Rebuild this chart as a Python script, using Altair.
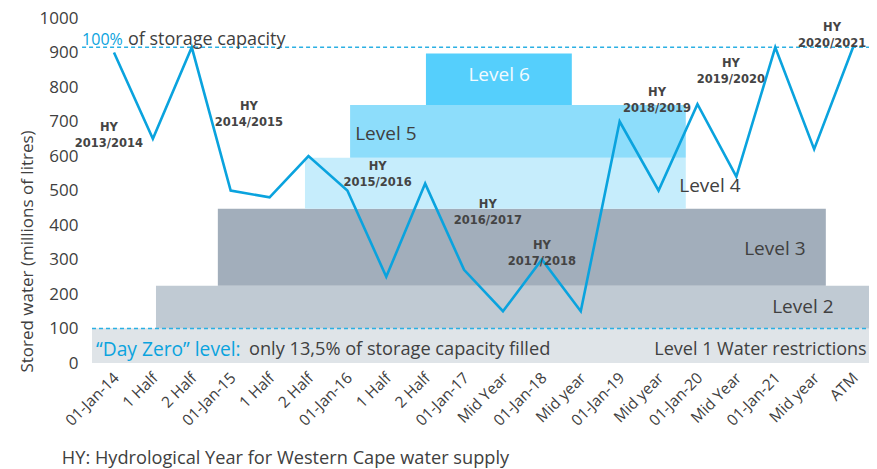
import altair as alt
import pandas as pd

# ---- data ----
categories = ["01-Jan-14", "1 Half", "2 Half", "01-Jan-15", "1 Half", "2 Half",
              "01-Jan-16", "1 Half", "2 Half", "01-Jan-17", "Mid Year", "01-Jan-18",
              "Mid year", "01-Jan-19", "Mid year", "01-Jan-20", "Mid Year", "01-Jan-21",
              "Mid year", "ATM"]
stored = [900, 650, 915, 500, 480, 600, 500, 250, 520, 270, 150, 300, 150,
          700, 500, 750, 540, 915, 620, 915]
y_ticks = [0, 100, 200, 300, 400, 500, 600, 700, 800, 900, 1000]

level_names = ["Level 1", "Level 2", "Level 3", "Level 4", "Level 5", "Level 6"]
level_x0 = [-0.565, 1.08, 2.67, 4.91, 6.07, 8.02]
level_x1 = [19.5, 19.5, 18.30, 14.70, 14.70, 11.77]
level_y0 = [0, 100, 224, 447, 595, 748]
level_y1 = [101, 224, 447, 595, 748, 897]
level_colors = ["#DFE4E8", "#C0CAD3", "#A2AEBB", "#C6EDFC", "#8DDDFB", "#55CFFC"]

level_label_text = ["Level 6", "Level 5", "Level 4", "Level 3", "Level 2"]
level_label_x = [9.9, 6.99, 15.32, 16.99, 17.71]
level_label_y = [834, 663, 514, 331, 163]
level_label_color = ["#F2FBFF", "#404040", "#404040", "#404040", "#404040"]

hy_text = ["HY\n2013/2014", "HY\n2014/2015", "HY\n2015/2016", "HY\n2016/2017",
           "HY\n2017/2018", "HY\n2018/2019", "HY\n2019/2020", "HY\n2020/2021"]
hy_x = [-0.13, 3.47, 6.78, 9.61, 11.0, 13.96, 15.86, 18.46]
hy_y = [680, 742, 567, 457, 339, 783, 866, 972]

capacity_full = 915
day_zero = 100

BLUE = "#0AA3DE"
TXT = "#404040"
FONT = "Open Sans"

x_dom = [-0.565, 19.41]
xs = alt.Scale(domain=x_dom, nice=False, zero=False)
ys = alt.Scale(domain=[0, 1000], nice=False)

label_expr = "[" + ",".join("'" + c + "'" for c in categories) + "][datum.value]"

x_axis = alt.Axis(values=list(range(len(categories))), labelExpr=label_expr,
                  labelAngle=-45, labelFontSize=15.5, labelColor=TXT,
                  labelFont=FONT, ticks=False, domain=False, grid=False,
                  labelOverlap=False, labelBound=False, labelFlush=False,
                  labelPadding=7, labelOffset=-3, title=None)
y_axis = alt.Axis(values=y_ticks, format="d",
                  labelFontSize=17, labelOverlap=False, labelFlush=False,
                  labelBound=False,
                  labelColor=TXT, labelFont=FONT, ticks=False, domain=False,
                  grid=False, labelPadding=14,
                  title="Stored water (millions of litres)",
                  titleFont=FONT, titleFontSize=17, titleFontWeight="normal",
                  titleColor=TXT, titleX=-65, titleY=233, titleAngle=-90,
                  titleAlign="center", titleBaseline="middle")


def X(f):
    return alt.X(f, scale=xs, axis=x_axis)


def Y(f):
    return alt.Y(f, scale=ys, axis=y_axis)


line_df = pd.DataFrame({"i": list(range(len(stored))), "v": stored})
band_df = pd.DataFrame({"name": level_names, "x0": level_x0, "x1": level_x1,
                        "y0": level_y0, "y1": level_y1, "c": level_colors})
lab_df = pd.DataFrame({"t": level_label_text, "x": level_label_x,
                       "y": level_label_y, "c": level_label_color})
hy_df = pd.DataFrame({"t": hy_text, "x": hy_x, "y": hy_y})

bands = alt.Chart(band_df).mark_rect(clip=True).encode(
    x=X("x0:Q"), x2="x1:Q", y=Y("y0:Q"), y2="y1:Q",
    color=alt.Color("c:N", scale=None),
)

ref_df = pd.DataFrame({"x0": [-0.82, -0.565], "x1": [19.8, 19.5],
                       "y": [capacity_full, day_zero]})
refs = alt.Chart(ref_df).mark_rule(color="#2BB0E3", strokeDash=[4, 3],
                                   strokeWidth=1.5).encode(
    x=X("x0:Q"), x2="x1:Q", y=Y("y:Q"))

line = alt.Chart(line_df).mark_line(color=BLUE, strokeWidth=2.6).encode(
    x=X("i:Q"), y=Y("v:Q"))

lev_labels = alt.Chart(lab_df).mark_text(font=FONT, fontSize=19, align="center",
                                         baseline="middle").encode(
    x=X("x:Q"), y=Y("y:Q"),
    text="t:N", color=alt.Color("c:N", scale=None))

hy_labels = alt.Chart(hy_df).mark_text(font="DejaVu Sans", fontSize=11.5,
                                       fontWeight="bold", color="#444444",
                                       align="center", baseline="middle",
                                       lineBreak="\n", lineHeight=16).encode(
    x=X("x:Q"), y=Y("y:Q"), text="t:N")

ann_df = pd.DataFrame({
    "t": ["100%", "of storage capacity", "\u201cDay Zero\u201d level:",
          "only 13,5% of storage capacity filled", "Level 1 Water restrictions"],
    "x": [-0.82, 0.36, -0.46, 3.47, 19.35],
    "y": [937, 937, 37, 37, 37],
    "c": [BLUE, TXT, BLUE, TXT, TXT],
    "a": ["left", "left", "left", "left", "right"],
    "s": [16, 18, 19.2, 18.2, 18],
})
ann_left = alt.Chart(ann_df[ann_df.a == "left"]).mark_text(
    font=FONT, align="left", baseline="middle").encode(
    x=X("x:Q"), y=Y("y:Q"), text="t:N",
    color=alt.Color("c:N", scale=None), size=alt.Size("s:Q", scale=None))
ann_right = alt.Chart(ann_df[ann_df.a == "right"]).mark_text(
    font=FONT, align="right", baseline="middle").encode(
    x=X("x:Q"), y=Y("y:Q"), text="t:N",
    color=alt.Color("c:N", scale=None), size=alt.Size("s:Q", scale=None))

foot_df = pd.DataFrame({"t": ["HY: Hydrological Year for Western Cape water supply"],
                        "x": [-1.34], "y": [-277]})
foot = alt.Chart(foot_df).mark_text(font=FONT, fontSize=18.2, align="left",
                                    baseline="middle", color=TXT).encode(
    x=X("x:Q"), y=Y("y:Q"), text="t:N")

chart = alt.layer(bands, refs, line, lev_labels, hy_labels, ann_left, ann_right,
                  foot).properties(
    width=777, height=345,
    autosize=alt.AutoSizeParams(type="none"),
    padding={"left": 84, "top": 10, "right": 0, "bottom": 106},
).configure_view(stroke=None)

chart.save("out.html", embed_options={"renderer": "svg", "actions": False})
